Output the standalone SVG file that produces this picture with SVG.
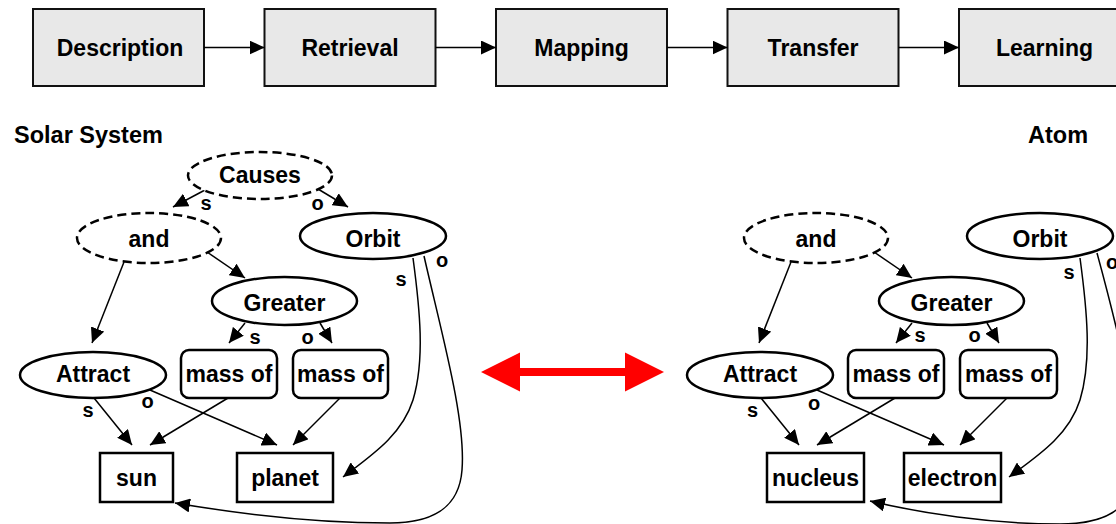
<svg xmlns="http://www.w3.org/2000/svg" width="1116" height="524" viewBox="0 0 1116 524">
<defs>
<style>
.box{fill:#e8e8e8;stroke:#111;stroke-width:2}
.t{font-family:"Liberation Sans",Arial,sans-serif;font-weight:bold;font-size:23px;fill:#000;text-anchor:middle}
.lb{font-family:"Liberation Sans",Arial,sans-serif;font-weight:bold;font-size:20px;fill:#000;text-anchor:middle}
.ttl{font-family:"Liberation Sans",Arial,sans-serif;font-weight:bold;font-size:23.5px;fill:#000}
.n{fill:#fff;stroke:#000;stroke-width:2.5}
.d{fill:#fff;stroke:#000;stroke-width:2.5;stroke-dasharray:9 5}
.e{fill:none;stroke:#000;stroke-width:1.5;marker-end:url(#ah)}
</style>
<marker id="ah" markerUnits="userSpaceOnUse" markerWidth="16" markerHeight="14" refX="15" refY="7" orient="auto">
<path d="M0,0 L15,7 L0,14 z" fill="#000"/>
</marker>
</defs>
<rect width="1116" height="524" fill="#fff"/>

<g id="process">
<g id="p-description"><rect class="box" x="33" y="9" width="171" height="77"/><text class="t" x="120" y="55.5">Description</text></g>
<g id="p-retrieval"><rect class="box" x="264.5" y="9" width="171" height="77"/><text class="t" x="350" y="55.5">Retrieval</text></g>
<g id="p-mapping"><rect class="box" x="496" y="9" width="171" height="77"/><text class="t" x="581.5" y="55.5">Mapping</text></g>
<g id="p-transfer"><rect class="box" x="727.5" y="9" width="171" height="77"/><text class="t" x="813" y="55.5">Transfer</text></g>
<g id="p-learning"><rect class="box" x="959" y="9" width="171" height="77"/><text class="t" x="1044.5" y="55.5">Learning</text></g>
</g>

<g id="process-connectors">
<line class="e" x1="204" y1="47.5" x2="264.5" y2="47.5"/>
<line class="e" x1="435.5" y1="47.5" x2="496" y2="47.5"/>
<line class="e" x1="667" y1="47.5" x2="727.5" y2="47.5"/>
<line class="e" x1="898.5" y1="47.5" x2="959" y2="47.5"/>
</g>

<text class="ttl" x="14" y="143">Solar System</text>
<text class="ttl" x="1028" y="143">Atom</text>

<g id="connectors">
<!-- left -->
<line class="e" x1="205" y1="190" x2="173" y2="207"/>
<line class="e" x1="318" y1="189" x2="348" y2="207"/>
<line class="e" x1="207" y1="252" x2="245" y2="278"/>
<line class="e" x1="124" y1="262" x2="92" y2="343"/>
<line class="e" x1="245" y1="323" x2="229" y2="343"/>
<line class="e" x1="320" y1="323" x2="332" y2="343"/>
<line class="e" x1="94" y1="398" x2="132" y2="445"/>
<line class="e" x1="150" y1="390" x2="277" y2="445"/>
<line class="e" x1="228" y1="398" x2="150" y2="445"/>
<line class="e" x1="340" y1="398" x2="293" y2="445"/>
<path class="e" d="M413 258 C420 310 425 360 413 400 C402 435 372 455 343 477"/>
<path class="e" d="M424 256 C442 335 466 420 462 470 C459 510 430 523 390 523 C320 523 240 514 175 503"/>
<!-- right -->
<line class="e" x1="874" y1="252" x2="912" y2="278"/>
<line class="e" x1="791" y1="262" x2="759" y2="343"/>
<line class="e" x1="912" y1="323" x2="896" y2="343"/>
<line class="e" x1="987" y1="323" x2="999" y2="343"/>
<line class="e" x1="761" y1="398" x2="799" y2="445"/>
<line class="e" x1="817" y1="390" x2="944" y2="445"/>
<line class="e" x1="895" y1="398" x2="817" y2="445"/>
<line class="e" x1="1007" y1="398" x2="960" y2="445"/>
<path class="e" d="M1080 258 C1087 310 1092 360 1080 400 C1069 435 1039 455 1009 477"/>
<path class="e" d="M1097 253 C1118 330 1140 420 1136 470 C1132 512 1102 524 1060 524 C990 524 920 513 870 501"/>
</g>

<g id="s-causes"><ellipse class="d" cx="260" cy="175.5" rx="72" ry="23.5"/><text class="t" x="260" y="183">Causes</text></g>
<g id="s-and"><ellipse class="d" cx="149" cy="238" rx="72" ry="25"/><text class="t" x="149" y="247">and</text></g>
<g id="s-orbit"><ellipse class="n" cx="373" cy="236" rx="73" ry="23"/><text class="t" x="373" y="247">Orbit</text></g>
<g id="s-greater"><ellipse class="n" cx="284.5" cy="301" rx="72.5" ry="24"/><text class="t" x="284.5" y="311">Greater</text></g>
<g id="s-attract"><ellipse class="n" cx="93" cy="375" rx="73" ry="23"/><text class="t" x="93" y="382">Attract</text></g>
<g id="s-massof1"><rect class="n" x="181" y="350" width="96" height="48" rx="8"/><text class="t" x="229" y="382">mass of</text></g>
<g id="s-massof2"><rect class="n" x="293" y="350" width="95" height="48" rx="8"/><text class="t" x="340.5" y="382">mass of</text></g>
<g id="s-sun"><rect class="n" x="100" y="453" width="73" height="49"/><text class="t" x="136.5" y="486">sun</text></g>
<g id="s-planet"><rect class="n" x="237" y="453" width="96" height="49"/><text class="t" x="285" y="486">planet</text></g>

<g id="a-and"><ellipse class="d" cx="816" cy="238" rx="72" ry="25"/><text class="t" x="816" y="247">and</text></g>
<g id="a-orbit"><ellipse class="n" cx="1040" cy="236" rx="73" ry="23"/><text class="t" x="1040" y="247">Orbit</text></g>
<g id="a-greater"><ellipse class="n" cx="951.5" cy="301" rx="72.5" ry="24"/><text class="t" x="951.5" y="311">Greater</text></g>
<g id="a-attract"><ellipse class="n" cx="760" cy="375" rx="73" ry="23"/><text class="t" x="760" y="382">Attract</text></g>
<g id="a-massof1"><rect class="n" x="848" y="350" width="96" height="48" rx="8"/><text class="t" x="896" y="382">mass of</text></g>
<g id="a-massof2"><rect class="n" x="960" y="350" width="97" height="48" rx="8"/><text class="t" x="1008.5" y="382">mass of</text></g>
<g id="a-nucleus"><rect class="n" x="767" y="453" width="97" height="49"/><text class="t" x="815.5" y="486">nucleus</text></g>
<g id="a-electron"><rect class="n" x="904" y="453" width="97" height="49"/><text class="t" x="952.5" y="486">electron</text></g>

<g id="edge-labels">
<text class="lb" x="206" y="210">s</text>
<text class="lb" x="317.5" y="210">o</text>
<text class="lb" x="401" y="286">s</text>
<text class="lb" x="442" y="267">o</text>
<text class="lb" x="255" y="344">s</text>
<text class="lb" x="307.5" y="344">o</text>
<text class="lb" x="88" y="417">s</text>
<text class="lb" x="147.5" y="408">o</text>
<text class="lb" x="1069" y="279">s</text>
<text class="lb" x="1112" y="269">o</text>
<text class="lb" x="920" y="342">s</text>
<text class="lb" x="974.5" y="342">o</text>
<text class="lb" x="752.5" y="417">s</text>
<text class="lb" x="814" y="410">o</text>
</g>

<g id="mapping-arrow">
<polygon fill="#ff0000" points="481,372 520,352.5 520,368 625,368 625,352.5 664,372 625,391.5 625,376 520,376 520,391.5"/>
</g>
</svg>
